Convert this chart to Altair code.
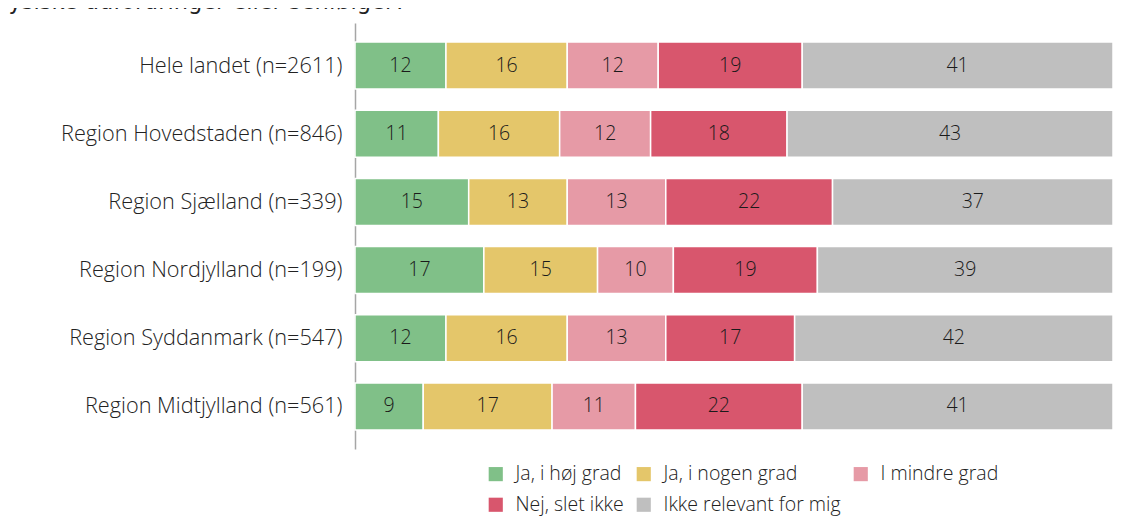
import altair as alt
import pandas as pd

regions = [
    "Hele landet (n=2611)",
    "Region Hovedstaden (n=846)",
    "Region Sjælland (n=339)",
    "Region Nordjylland (n=199)",
    "Region Syddanmark (n=547)",
    "Region Midtjylland (n=561)",
]
answers = [
    "Ja, i høj grad",
    "Ja, i nogen grad",
    "I mindre grad",
    "Nej, slet ikke",
    "Ikke relevant for mig",
]
colors = ["#80C088", "#E4C66A", "#E69AA6", "#D8566D", "#BFBFBF"]

ja_hoej = [12, 11, 15, 17, 12, 9]
ja_nogen = [16, 16, 13, 15, 16, 17]
mindre = [12, 12, 13, 10, 13, 11]
nej = [19, 18, 22, 19, 17, 22]
ikke_rel = [41, 43, 37, 39, 42, 41]

series = [ja_hoej, ja_nogen, mindre, nej, ikke_rel]

rows = []
for ri, reg in enumerate(regions):
    start = 0
    for ai, ans in enumerate(answers):
        v = series[ai][ri]
        rows.append({"region": reg, "answer": ans, "order": ai, "value": v,
                     "start": start, "end": start + v, "mid": start + v / 2})
        start += v
df = pd.DataFrame(rows)

FONT = "Open Sans"

y_enc = alt.Y("region:N", sort=regions,
              scale=alt.Scale(paddingInner=0.31, paddingOuter=0.28),
              axis=alt.Axis(title=None, ticks=False, labelFontSize=21.7, labelFont=FONT,
                            labelFontWeight=300,
                            labelColor="#222222", labelPadding=13, domainColor="#A6A6A6",
                            domainWidth=1.5, grid=False, labelLimit=400))

bars = alt.Chart(df).mark_bar(stroke="white", strokeWidth=1.5).encode(
    x=alt.X("start:Q", scale=alt.Scale(domain=[0, 100], nice=False), axis=None),
    x2="end:Q",
    y=y_enc,
    color=alt.Color("answer:N", sort=answers,
                    scale=alt.Scale(domain=answers, range=colors),
                    legend=alt.Legend(title=None, orient="none", legendX=131, legendY=441,
                                      direction="horizontal",
                                      columns=3, symbolType="square", symbolSize=200,
                                      symbolStrokeWidth=0, labelFontSize=19.5, labelFont=FONT,
                                      labelFontWeight=300, labelLimit=400,
                                      labelColor="#222222", columnPadding=10, rowPadding=10,
                                      symbolOffset=0, labelOffset=10)),
    order=alt.Order("order:Q"),
)

labels = alt.Chart(df).mark_text(fontSize=19.5, font=FONT, fontWeight=300,
                                 color="#1a1a1a").encode(
    x=alt.X("mid:Q", scale=alt.Scale(domain=[0, 100], nice=False), axis=None),
    y=alt.Y("region:N", sort=regions),
    text=alt.Text("value:Q"),
)

chart = alt.layer(bars, labels).properties(
    width=758,
    height=426,
    padding={"left": 347, "top": 15, "right": 2, "bottom": 70},
    autosize=alt.AutoSizeParams(type="none"),
    title=alt.TitleParams(text="fysiske udfordringer eller senfølger?", anchor="start",
                          frame="group", dx=-354, dy=8, offset=0, baseline="alphabetic",
                          fontSize=22.5, font="DejaVu Sans", fontWeight="normal",
                          color="#222222"),
).configure_view(stroke=None)

chart.save("out.html", embed_options={"renderer": "svg", "actions": False})
